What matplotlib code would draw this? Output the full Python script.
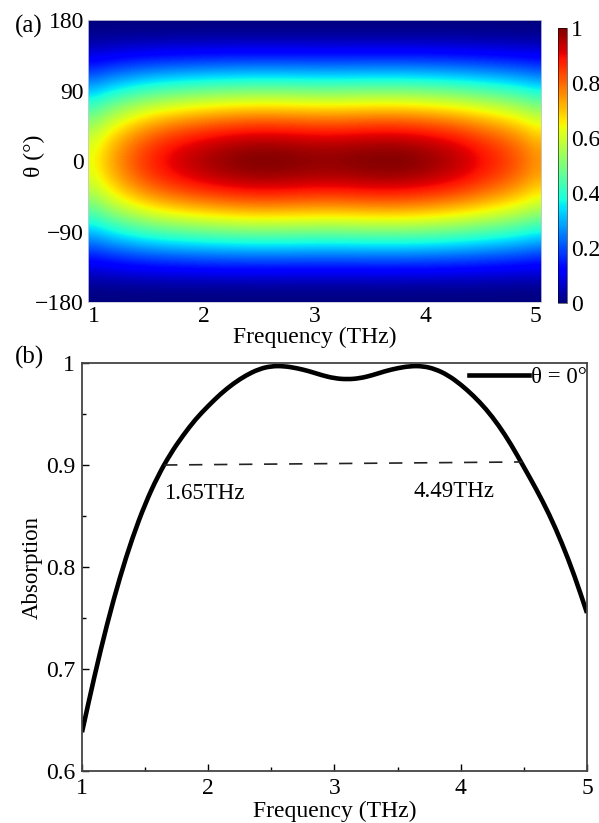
import numpy as np
import matplotlib
matplotlib.use("Agg")
import matplotlib.pyplot as plt
from matplotlib.ticker import MultipleLocator
from matplotlib.path import Path
from matplotlib.patches import PathPatch

plt.rcParams['font.family'] = ['Liberation Serif', 'DejaVu Serif']

# absorption spectrum at normal incidence (theta = 0)
freq = [1.0, 1.1, 1.2, 1.3, 1.4, 1.5, 1.6, 1.7, 1.8, 1.9,
        2.0, 2.1, 2.2, 2.3, 2.4, 2.5, 2.6, 2.7, 2.8, 2.9,
        3.0, 3.1, 3.2, 3.3, 3.4, 3.5, 3.6, 3.7, 3.8, 3.9,
        4.0, 4.1, 4.2, 4.3, 4.4, 4.5, 4.6, 4.7, 4.8, 4.9, 5.0]
absorption = [0.638, 0.694, 0.745, 0.790, 0.829, 0.862, 0.889, 0.911, 0.929, 0.945,
              0.958, 0.970, 0.980, 0.988, 0.994, 0.997, 0.997, 0.995, 0.992, 0.988,
              0.985, 0.984, 0.985, 0.988, 0.992, 0.995, 0.997, 0.997, 0.994, 0.988,
              0.979, 0.968, 0.955, 0.939, 0.920, 0.898, 0.876, 0.852, 0.824, 0.792, 0.755]

# relative absorption vs polarization angle
theta = [-180, -165, -150, -135, -120, -105, -90, -75, -60, -45, -30, -15, 0,
         15, 30, 45, 60, 75, 90, 105, 120, 135, 150, 165, 180]
theta_weight = [0.0, 0.017, 0.067, 0.146, 0.25, 0.371, 0.5, 0.629, 0.75, 0.854, 0.933, 0.983, 1.0,
                0.983, 0.933, 0.854, 0.75, 0.629, 0.5, 0.371, 0.25, 0.146, 0.067, 0.017, 0.0]

band_edges = [1.65, 4.49]
band_level = [0.900, 0.903]
band_labels = ['1.65THz', '4.49THz']

FS = 17


def smooth_path(x, y):
    # quadratic bezier through the midpoints, data points act as control points
    pts = np.column_stack([x, y])
    mids = (pts[:-1] + pts[1:]) / 2
    verts = [pts[0], mids[0]]
    codes = [Path.MOVETO, Path.LINETO]
    for i in range(1, len(pts) - 1):
        verts += [pts[i], mids[i]]
        codes += [Path.CURVE3, Path.CURVE3]
    verts.append(pts[-1])
    codes.append(Path.LINETO)
    return Path(verts, codes)


fig = plt.figure(figsize=(5.99, 8.23), dpi=100)

# (a) angle-frequency map
ax1 = fig.add_axes([0.1469, 0.633, 0.7563, 0.3426])
A = np.outer(theta_weight, absorption)
df = (freq[-1] - freq[0]) / (len(freq) - 1) / 2
dt = (theta[-1] - theta[0]) / (len(theta) - 1) / 2
im = ax1.imshow(A, cmap='jet', vmin=0, vmax=1, origin='lower', aspect='auto',
                interpolation='bicubic',
                extent=[freq[0] - df, freq[-1] + df, theta[0] - dt, theta[-1] + dt])
ax1.set_xlim(freq[0] - df, freq[-1] + df)
ax1.set_ylim(-180, 180)
ax1.set_xticks([1, 2, 3, 4, 5])
ax1.set_yticks([-180, -90, 0, 90, 180])
ax1.tick_params(length=0, labelsize=FS, pad=3)
ax1.set_xlabel('Frequency (THz)', fontsize=FS, labelpad=0)
ax1.set_ylabel('θ (°)', fontsize=FS)
ax1.yaxis.set_label_coords(-0.094, 0.52)
for s in ax1.spines.values():
    s.set_color('#c8c8d8')
    s.set_linewidth(0.6)
fig.text(0.025, 0.961, '(a)', fontsize=FS + 1)

cax = fig.add_axes([0.9316, 0.6318, 0.015, 0.334])
cb = fig.colorbar(im, cax=cax, ticks=[0, 0.2, 0.4, 0.6, 0.8, 1])
cb.ax.set_yticklabels(['0', '0.2', '0.4', '0.6', '0.8', '1'])
cb.ax.tick_params(length=0, labelsize=FS, pad=3)
cb.outline.set_linewidth(0.4)

# (b) spectrum
ax2 = fig.add_axes([0.1369, 0.0632, 0.843, 0.4957])
ax2.add_patch(PathPatch(smooth_path(freq, absorption), fill=False, edgecolor='black',
                        lw=3.3, capstyle='butt'))
ax2.plot([], [], color='black', lw=3.3, label='θ = 0°')
ax2.plot(band_edges, band_level, color='#222222', lw=1.2, dashes=(8, 7))
ax2.text(band_edges[0], 0.872, band_labels[0], fontsize=FS - 0.5, ha='left', va='center')
ax2.text(4.27, 0.874, band_labels[1], fontsize=FS - 0.5, ha='right', va='center')
ax2.set_xlim(1, 5)
ax2.set_ylim(0.6, 1.0)
ax2.set_xticks([1, 2, 3, 4, 5])
ax2.set_yticks([0.6, 0.7, 0.8, 0.9, 1.0])
ax2.set_yticklabels(['0.6', '0.7', '0.8', '0.9', '1'])
ax2.xaxis.set_minor_locator(MultipleLocator(0.5))
ax2.yaxis.set_minor_locator(MultipleLocator(0.05))
ax2.tick_params(which='major', direction='in', length=5, width=1, labelsize=FS, pad=5)
ax2.tick_params(which='minor', direction='in', length=3, width=1)
ax2.set_xlabel('Frequency (THz)', fontsize=FS, labelpad=1)
ax2.set_ylabel('Absorption', fontsize=FS - 0.5, labelpad=2)
for s in ax2.spines.values():
    s.set_color('#444444')
    s.set_linewidth(1.3)
ax2.legend(loc='upper right', bbox_to_anchor=(1.0, 0.99), frameon=False,
           handlelength=2.6, handletextpad=0.1, borderpad=0, borderaxespad=0, fontsize=FS - 0.5)
fig.text(0.025, 0.558, '(b)', fontsize=FS + 1)

fig.savefig('out.png', dpi=100)
